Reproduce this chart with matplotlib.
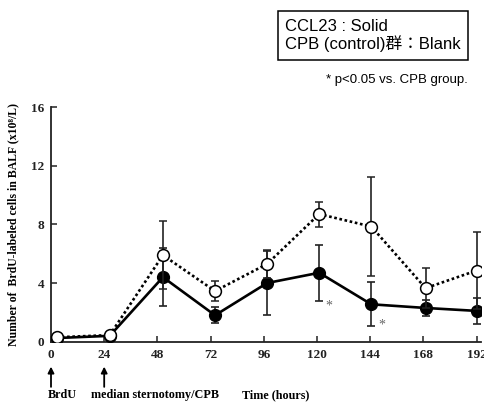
import matplotlib
matplotlib.use("Agg")
import matplotlib.pyplot as plt

# ---- data ----
time_ticks = [0, 24, 48, 72, 96, 120, 144, 168, 192]
time_pos = [2.5, 26.5, 50.5, 74, 97.5, 121, 144.5, 169, 192]  # marker positions as drawn
ccl23 = [0.25, 0.4, 4.4, 1.8, 4.0, 4.7, 2.55, 2.3, 2.1]
ccl23_err = [0, 0, 2.0, 0.55, 2.2, 1.9, 1.5, 0.55, 0.9]
cpb = [0.3, 0.45, 5.9, 3.45, 5.3, 8.7, 7.85, 3.65, 4.85]
cpb_err = [0, 0, 2.3, 0.7, 0.95, 0.85, 3.35, 1.35, 2.6]
y_ticks = [0, 4, 8, 12, 16]
sig_x = [125.4, 149.3]
sig_y = [2.45, 1.14]

serif = ['Liberation Serif', 'DejaVu Serif']
sans = ['Liberation Sans', 'Noto Sans CJK JP', 'DejaVu Sans']

fig = plt.figure(figsize=(4.84, 4.03), dpi=100)
ax = fig.add_axes([51 / 484, 61.3 / 403, 430 / 484, 234.7 / 403])

# solid series (CCL23)
ax.errorbar(time_pos, ccl23, yerr=ccl23_err, color='black', lw=1.9,
             marker='o', ms=8.5, mfc='black', mec='black',
             ecolor='#222222', elinewidth=1.2, capsize=2.8, capthick=1.2, zorder=3)
# open series (CPB control)
ax.errorbar(time_pos, cpb, yerr=cpb_err, color='black', lw=1.9, ls=(0, (1, 1)),
            marker='o', ms=8.5, mfc='white', mec='black', mew=1.1,
            ecolor='#222222', elinewidth=1.2, capsize=2.8, capthick=1.2, zorder=4)

for sx, sy in zip(sig_x, sig_y):
    ax.text(sx, sy, '*', color='#666666', fontsize=10, family=serif,
            ha='center', va='center')

ax.set_xlim(0, 194)
ax.set_ylim(0, 16)
ax.set_xticks(time_ticks)
ax.set_yticks(y_ticks)
ax.set_xticklabels([str(t) for t in time_ticks], family=serif, fontweight='bold', fontsize=9.5)
ax.set_yticklabels([str(t) for t in y_ticks], family=serif, fontweight='bold', fontsize=9.5)
ax.tick_params(direction='in', length=4, width=1.1, pad=5, colors='#222222')
for s in ['top', 'right']:
    ax.spines[s].set_visible(False)
for s in ['left', 'bottom']:
    ax.spines[s].set_linewidth(1.3)
    ax.spines[s].set_color('#222222')

ax.set_ylabel('Number of  BrdU-labeled cells in BALF (x10⁸/L)', family=serif,
              fontweight='bold', fontsize=8.5, labelpad=8)

# annotations below axis
for t in [0, 24]:
    ax.annotate('', xy=(t, -1.7), xytext=(t, -3.08), xycoords='data',
                arrowprops=dict(arrowstyle='-|>', color='black', lw=1.3,
                                mutation_scale=9, shrinkA=0, shrinkB=0),
                annotation_clip=False)
fig.text(48 / 484, 1 - 395 / 403, 'BrdU', family=serif, fontweight='bold',
         fontsize=8.7, ha='left', va='center')
fig.text(91 / 484, 1 - 395 / 403, 'median sternotomy/CPB', family=serif,
         fontweight='bold', fontsize=8.7, ha='left', va='center')
fig.text(242 / 484, 1 - 395 / 403, 'Time (hours)', family=serif,
         fontweight='bold', fontsize=8.7, ha='left', va='center')

# legend box
fig.text(285 / 484, 1 - 35.5 / 403, 'CCL23 : Solid\nCPB (control)群：Blank', family=sans,
         fontsize=12, ha='left', va='center', linespacing=1.1,
         bbox=dict(boxstyle='square,pad=0.45', fc='white', ec='black', lw=1.1))
fig.text(326 / 484, 1 - 80 / 403, '* p<0.05 vs. CPB group.', family=sans,
         fontsize=9.5, ha='left', va='center')

fig.savefig('out.png', dpi=100)
